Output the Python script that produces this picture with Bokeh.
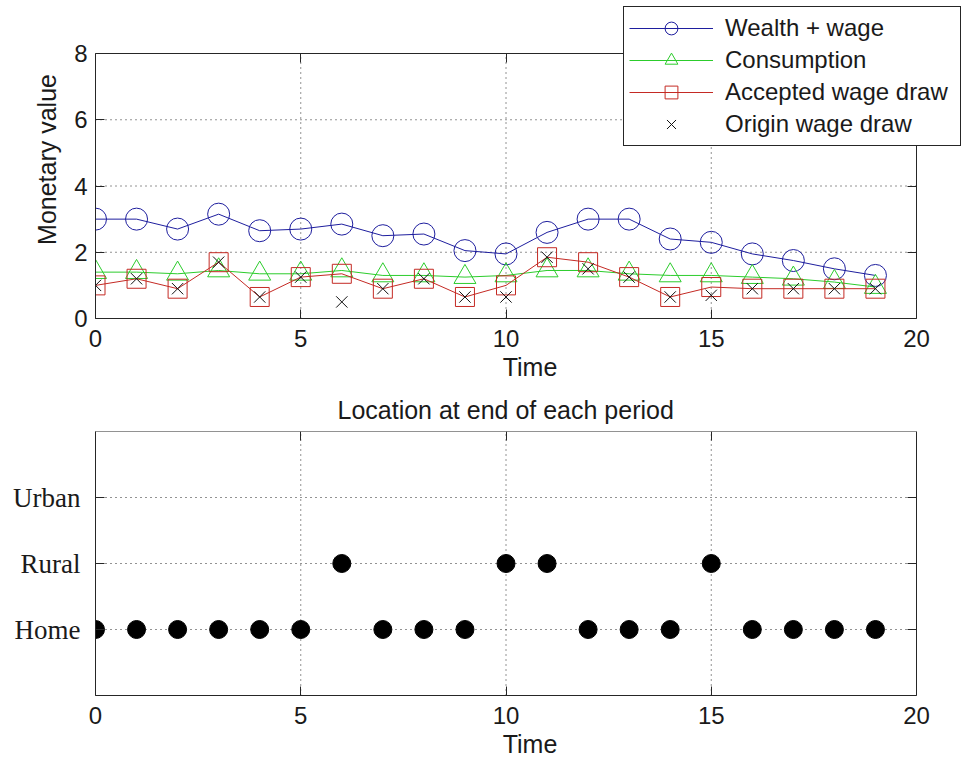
from bokeh.plotting import figure
from bokeh.models import (Range1d, LinearAxis, FixedTicker, Legend, LegendItem,
                          ColumnDataSource, CustomLabelingPolicy)
from bokeh.layouts import column
from bokeh.embed import file_html
from bokeh.resources import INLINE

# ---- data ----
time = list(range(20))
wealth = [3.0, 3.0, 2.7, 3.15, 2.65, 2.7, 2.85, 2.5, 2.55, 2.05,
          1.95, 2.6, 3.0, 3.0, 2.4, 2.3, 1.95, 1.75, 1.5, 1.3]
consumption = [1.4, 1.4, 1.35, 1.45, 1.35, 1.35, 1.45, 1.3, 1.3, 1.25,
               1.3, 1.45, 1.45, 1.35, 1.3, 1.3, 1.25, 1.2, 1.1, 0.95]
accepted = [1.0, 1.2, 0.9, 1.7, 0.65, 1.25, 1.35, 0.9, 1.2, 0.65,
            1.0, 1.85, 1.7, 1.25, 0.65, 0.95, 0.9, 0.9, 0.9, 0.9]
origin = [1.0, 1.2, 0.9, 1.7, 0.65, 1.25, 0.5, 0.9, 1.2, 0.65,
          0.65, 1.85, 1.5, 1.25, 0.65, 0.7, 0.9, 0.9, 0.9, 0.9]
location = [1, 1, 1, 1, 1, 1, 2, 1, 1, 1, 2, 2, 1, 1, 1, 2, 1, 1, 1, 1]
loc_ticks = [1, 2, 3]
loc_labels = ["Home", "Rural", "Urban"]
loc_limits = [0, 4]
x_ticks = [0, 5, 10, 15, 20]
y_ticks = [0, 2, 4, 6, 8]
series_names = ["Wealth + wage", "Consumption", "Accepted wage draw", "Origin wage draw"]
title2 = "Location at end of each period"

# ---- style / layout constants ----
FONT = "Liberation Sans"
SERIF = "Liberation Serif"
BLUE = "#1e1e9e"
GREEN = "#2ccc2c"
RED = "#c42a24"
DARK = "#262626"
TXT = "#1a1a1a"
W = 964
BOX_L, BOX_R = 95, 916          # plot box left/right (px)
TOP_H = 384
BOX1_T, BOX1_B = 53, 318        # top plot box top/bottom (px)
BOT_H = 766 - TOP_H
BOX2_T, BOX2_B = 431 - TOP_H, 695 - TOP_H   # bottom plot box inside its figure (px)

NO_LABELS = CustomLabelingPolicy(
    code="for (let i = 0; i < indices.size; i++) { indices.unset(i) }\nreturn indices")

src = ColumnDataSource(dict(t=time, w=wealth, c=consumption, a=accepted, o=origin, loc=location))

X0, X1 = x_ticks[0], x_ticks[-1]
# the frame reaches the right edge of the page; the visible box ends at X1
x_end = X0 + (X1 - X0) * (W - BOX_L) / (BOX_R - BOX_L)


def style_axis(ax, ticks, labels=True):
    ax.ticker = FixedTicker(ticks=ticks)
    ax.major_tick_in = 9
    ax.major_tick_out = 0
    ax.minor_tick_line_color = None
    ax.axis_line_color = DARK
    ax.major_tick_line_color = DARK
    ax.major_label_text_font = FONT
    ax.major_label_text_color = TXT
    ax.major_label_text_font_size = "24px"
    ax.major_label_standoff = 8
    if not labels:
        ax.major_label_policy = NO_LABELS
        ax.axis_line_color = None
    ax.axis_label_text_font = FONT
    ax.axis_label_text_font_size = "25px"
    ax.axis_label_text_font_style = "normal"
    ax.axis_label_text_color = TXT
    ax.axis_label_standoff = 4


def boxed(p, xt, yt, ylo, yhi):
    """MATLAB-like box: dotted grid, outline, inward ticks on all four sides."""
    p.outline_line_color = None
    p.xgrid.visible = False
    p.ygrid.visible = False
    p.background_fill_color = "white"
    p.border_fill_color = "white"
    xb, yl = p.xaxis[0], p.yaxis[0]
    style_axis(xb, xt)
    style_axis(yl, yt)
    xb.bounds = (X0, X1)
    yl.bounds = (ylo, yhi)
    xb.major_label_standoff = 11
    xb.axis_label_standoff = 3
    top = LinearAxis(fixed_location=yhi, bounds=(X0, X1))
    style_axis(top, xt, labels=False)
    p.add_layout(top, "above")
    right = LinearAxis(fixed_location=X1, bounds=(ylo, yhi))
    style_axis(right, yt, labels=False)
    p.add_layout(right, "right")
    gx = [v for v in xt if X0 < v < X1]
    gy = [v for v in yt if ylo < v < yhi]
    p.segment(x0=gx, y0=[ylo] * len(gx), x1=gx, y1=[yhi] * len(gx),
              line_color="#000000", line_dash="1 4", line_width=1, line_alpha=0.85)
    p.segment(x0=[X0] * len(gy), y0=gy, x1=[X1] * len(gy), y1=gy,
              line_color="#000000", line_dash="1 4", line_width=1, line_alpha=0.85)
    p.quad(left=[X0], right=[X1], bottom=[ylo], top=[yhi], fill_color=None,
           line_color=DARK, line_width=1)
    return xb, yl


# ================= top figure =================
Y0, Y1 = y_ticks[0], y_ticks[-1]
y_end = Y0 + (Y1 - Y0) * BOX1_B / (BOX1_B - BOX1_T)

p1 = figure(width=W, height=TOP_H, x_range=Range1d(X0, x_end), y_range=Range1d(Y0, y_end),
            output_backend="svg", toolbar_location=None,
            min_border_left=BOX_L, min_border_right=0, min_border_top=0,
            min_border_bottom=TOP_H - BOX1_B)
xb, yl = boxed(p1, x_ticks, y_ticks, Y0, Y1)
xb.axis_label = "Time"
yl.axis_label = "Monetary value"
yl.axis_label_standoff = 10

lw = p1.line("t", "w", source=src, line_color=BLUE, line_width=1)
sw = p1.scatter("t", "w", source=src, marker="circle", size=22, fill_color=None, line_color=BLUE, line_width=1)
lc = p1.line("t", "c", source=src, line_color=GREEN, line_width=1)
sc = p1.scatter("t", "c", source=src, marker="triangle", size=22, fill_color=None, line_color=GREEN, line_width=1)
la = p1.line("t", "a", source=src, line_color=RED, line_width=1)
sa = p1.scatter("t", "a", source=src, marker="square", size=19, fill_color=None, line_color=RED, line_width=1)
so = p1.scatter("t", "o", source=src, marker="x", size=16, line_color="#111111", line_width=1)

legend = Legend(items=[
    LegendItem(label=series_names[0], renderers=[lw, sw]),
    LegendItem(label=series_names[1], renderers=[lc, sc]),
    LegendItem(label=series_names[2], renderers=[la, sa]),
    LegendItem(label=series_names[3], renderers=[so]),
], location=(623 - BOX_L, BOX1_B - 146))
legend.glyph_width = 84
legend.glyph_height = 32
legend.spacing = 0
legend.padding = 5
legend.margin = 0
legend.label_standoff = 12
legend.label_width = 230
legend.label_text_font = FONT
legend.label_text_font_size = "24px"
legend.label_text_color = TXT
legend.border_line_color = DARK
legend.border_line_width = 1
legend.border_line_alpha = 1
legend.background_fill_color = "white"
legend.background_fill_alpha = 1
p1.add_layout(legend, "center")

# ================= bottom figure =================
L0, L1 = loc_limits
p2 = figure(width=W, height=BOT_H, x_range=Range1d(X0, x_end), y_range=Range1d(L0, L1),
            output_backend="svg", toolbar_location=None,
            min_border_left=BOX_L, min_border_right=0, min_border_top=BOX2_T,
            min_border_bottom=BOT_H - BOX2_B)
xb2, yl2 = boxed(p2, x_ticks, loc_ticks, L0, L1)
xb2.axis_label = "Time"
yl2.major_label_overrides = {k: v for k, v in zip(loc_ticks, loc_labels)}
yl2.major_label_text_font = SERIF
yl2.major_label_text_font_size = "27px"
yl2.major_label_standoff = 15

p2.title.text = title2
p2.title.text_font = FONT
p2.title.text_font_size = "25px"
p2.title.text_font_style = "normal"
p2.title.text_color = TXT
p2.title.align = "left"
p2.title.offset = 242
p2.title.standoff = 16

p2.scatter("t", "loc", source=src, marker="circle", size=18, fill_color="black", line_color="black")

layout = column(p1, p2)
open("out.html", "w").write(file_html(layout, INLINE))
